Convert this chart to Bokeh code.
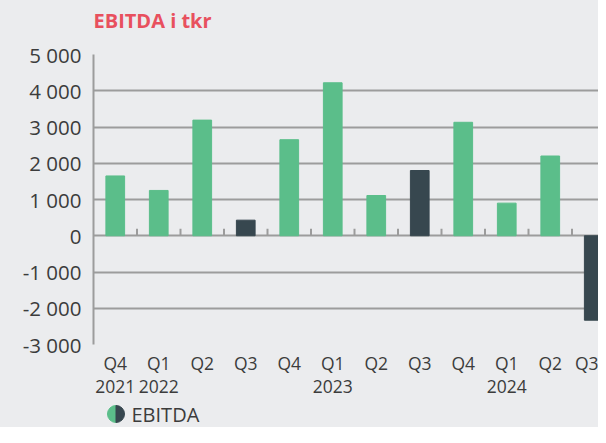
import math
from bokeh.plotting import figure
from bokeh.models import Range1d, FixedTicker, ColumnDataSource, LinearAxis
from bokeh.layouts import column
from bokeh.core.properties import value
from bokeh.embed import file_html
from bokeh.resources import INLINE

# ---- data ----
quarters = ["Q4", "Q1", "Q2", "Q3", "Q4", "Q1", "Q2", "Q3", "Q4", "Q1", "Q2", "Q3"]
years = ["2021", "2022", "", "", "", "2023", "", "", "", "2024", "", ""]
ebitda = [1650, 1250, 3190, 430, 2650, 4220, 1110, 1800, 3130, 900, 2200, -2330]
y_ticks = [-3000, -2000, -1000, 0, 1000, 2000, 3000, 4000, 5000]
y_labels = ["-3 000", "-2 000", "-1 000", "0", "1 000", "2 000", "3 000", "4 000", "5 000"]
title_text = "EBITDA i tkr"
legend_label = "EBITDA"

GREEN = "#5BBE8A"
DARK = "#37474F"
BG = "#EBECEE"
GRID = "#9C9C9C"
TEXT = "#3C3C3C"
FONT = "Open Sans"

W = 598
LEFT = 93
FW = W - LEFT
n = len(quarters)
xs = [i + 0.5 for i in range(n)]
colors = [DARK if q == "Q3" else GREEN for q in quarters]
src = ColumnDataSource(dict(x=xs, top=ebitda, color=colors))


def strip(h):
    f = figure(frame_width=FW, frame_height=h, output_backend="svg", toolbar_location=None,
               x_range=Range1d(LEFT, W), y_range=Range1d(0, h),
               min_border_left=LEFT, min_border_right=0, min_border_top=0, min_border_bottom=0,
               background_fill_color=BG, border_fill_color=BG, outline_line_color=None)
    f.axis.visible = False
    f.grid.visible = False
    return f


# ---- title strip ----
TH = 40
ttl = strip(TH)
ttl.text(x=[LEFT], y=[TH - 20], text=[title_text], text_baseline="middle", text_align="left",
         text_font=value(FONT), text_font_size="20px", text_font_style="bold",
         text_color="#E8505E")

# ---- main chart ----
p = figure(frame_width=FW, frame_height=290, output_backend="svg", toolbar_location=None,
           x_range=Range1d(0, FW / 43.5), y_range=Range1d(y_ticks[0], y_ticks[-1]),
           min_border_left=LEFT, min_border_right=0, min_border_top=14, min_border_bottom=56,
           background_fill_color=BG, border_fill_color=BG, outline_line_color=None,
           x_axis_location=None)

p.xgrid.visible = False
p.ygrid.ticker = FixedTicker(ticks=y_ticks)
p.ygrid.grid_line_color = GRID
p.ygrid.grid_line_width = 2

p.yaxis.ticker = FixedTicker(ticks=y_ticks)
p.yaxis.major_label_overrides = {t: l for t, l in zip(y_ticks, y_labels)}
p.yaxis.major_tick_line_color = None
p.yaxis.minor_tick_line_color = None
p.yaxis.axis_line_color = GRID
p.yaxis.axis_line_width = 2
p.yaxis.major_label_text_font = FONT
p.yaxis.major_label_text_font_size = "20.5px"
p.yaxis.major_label_text_color = TEXT
p.yaxis.major_label_standoff = 6


def cat_axis(ticks, labels, standoff):
    ax = LinearAxis(ticker=FixedTicker(ticks=ticks),
                    major_label_overrides={t: l for t, l in zip(ticks, labels)})
    ax.major_tick_line_color = None
    ax.minor_tick_line_color = None
    ax.axis_line_color = None
    ax.major_label_text_font = FONT
    ax.major_label_text_font_size = "17.5px"
    ax.major_label_text_color = TEXT
    ax.major_label_standoff = standoff
    return ax


p.add_layout(cat_axis(xs, quarters, 0), "below")
yr_x = [x for x, y in zip(xs, years) if y]
yr_l = [y for y in years if y]
p.add_layout(cat_axis(yr_x, yr_l, -4), "below")

# category ticks on the zero line
bounds = list(range(1, n))
p.segment(x0=bounds, x1=bounds, y0=[0] * len(bounds), y1=[190] * len(bounds),
          line_color=GRID, line_width=2)

p.vbar(x="x", top="top", bottom=0, width=0.43, color="color", source=src)

# ---- legend strip ----
LH = 27
leg = strip(LH)
leg.wedge(x=[115.5], y=[LH / 2], radius=8.5, start_angle=math.pi / 2,
          end_angle=3 * math.pi / 2, color=GREEN)
leg.wedge(x=[115.5], y=[LH / 2], radius=8.5, start_angle=-math.pi / 2,
          end_angle=math.pi / 2, color=DARK)
leg.text(x=[131], y=[LH / 2], text=[legend_label], text_baseline="middle",
         text_font=value(FONT), text_font_size="20px", text_color=TEXT)

layout = column(ttl, p, leg, spacing=0, styles={"background-color": BG})
open("out.html", "w").write(file_html(layout, INLINE))
